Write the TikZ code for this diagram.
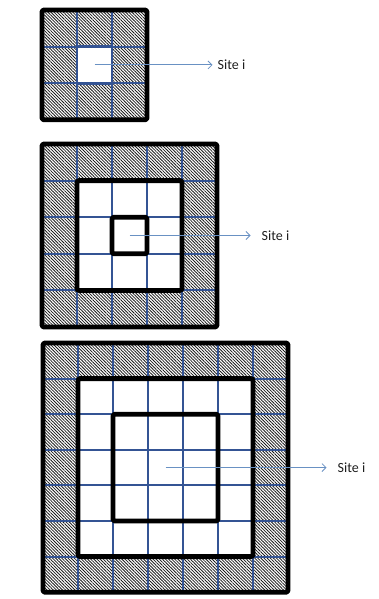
\documentclass[tikz,border=0pt]{standalone}
\usepackage{fontspec}
\newfontfamily\labelfont{Carlito}
\usetikzlibrary{arrows.meta,patterns.meta,positioning}
\usepackage{xcolor}
\definecolor{gridblue}{RGB}{52,84,148}
\definecolor{arrowblue}{RGB}{105,145,195}
\definecolor{inkgray}{RGB}{30,30,30}
\tikzset{
    hatch/.style={
        pattern={Lines[angle=-45,distance=2.2pt,line width=0.8pt]},
        pattern color=black!90
    },
    gridline/.style={
        draw=gridblue,line width=2.1pt
    },
    frame/.style={
        draw=black,line width=4.8pt,rounded corners=1.5pt,line join=round
    },
    pointer/.style={
        -{Straight Barb[length=4pt,width=8pt]},line width=0.8pt,draw=arrowblue
    },
    sitelabel/.style={
        font=\labelfont\fontsize{14}{16}\selectfont,text=inkgray,inner sep=1pt
    }
}

\begin{document}
\begin{tikzpicture}[x=1pt,y=-1pt]
\useasboundingbox (0,0) rectangle (379,599);

% 3x3 block
\begin{scope}[shift={(42,10)},x=35pt,y=-36.6pt]
    \fill[hatch,even odd rule] (0,0) rectangle (3,3) (1,1) rectangle (2,2);
    \foreach \i in {1,2}{
        \draw[gridline] (\i,0) -- (\i,3);
        \draw[gridline] (0,\i) -- (3,\i);
    }
    \draw[gridline,line width=2.8pt] (1,1) rectangle (2,2);
    \draw[frame] (0,0) rectangle (3,3);
    \coordinate (c1) at (1.5,1.5);
\end{scope}

% 5x5 block
\begin{scope}[shift={(42,144)},x=35pt,y=-36.6pt]
    \fill[hatch,even odd rule] (0,0) rectangle (5,5) (1,1) rectangle (4,4);
    \foreach \i in {1,...,4}{
        \draw[gridline] (\i,0) -- (\i,5);
        \draw[gridline] (0,\i) -- (5,\i);
    }
    \draw[frame] (1,1) rectangle (4,4);
    \draw[frame] (2,2) rectangle (3,3);
    \draw[frame] (0,0) rectangle (5,5);
    \coordinate (c2) at (2.5,2.5);
\end{scope}

% 7x7 block
\begin{scope}[shift={(43,343)},x=35pt,y=-35.6pt]
    \fill[hatch,even odd rule] (0,0) rectangle (7,7) (1,1) rectangle (6,6);
    \foreach \i in {1,...,6}{
        \draw[gridline] (\i,0) -- (\i,7);
        \draw[gridline] (0,\i) -- (7,\i);
    }
    \draw[frame] (1,1) rectangle (6,6);
    \draw[frame] (2,2) rectangle (5,5);
    \draw[frame] (0,0) rectangle (7,7);
    \coordinate (c3) at (3.5,3.5);
\end{scope}

\node[sitelabel,right=122pt of c1] (s1) {Site i};
\node[sitelabel,right=131pt of c2] (s2) {Site i};
\node[sitelabel,right=171pt of c3] (s3) {Site i};

\draw[pointer,shorten >=4pt] (c1) -- (s1.west);
\draw[pointer,shorten >=10pt] (c2) -- (s2.west);
\draw[pointer,shorten >=10pt] (c3) -- (s3.west);

\end{tikzpicture}
\end{document}
